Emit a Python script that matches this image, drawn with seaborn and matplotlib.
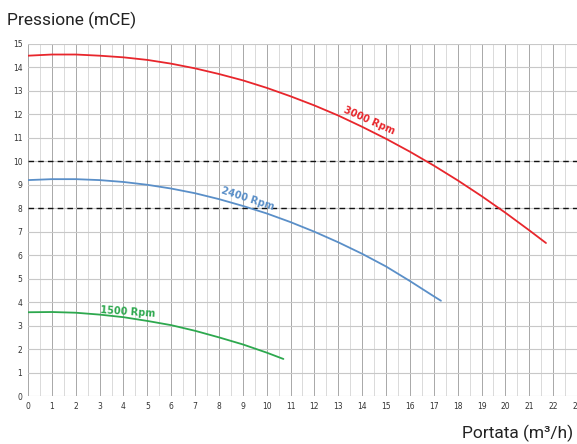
import numpy as np
import pandas as pd
import matplotlib
matplotlib.use('Agg')
import matplotlib.pyplot as plt
import seaborn as sns

# portata (m3/h) e pressione (mCE)
q_3000 = [0, 1, 2, 3, 4, 5, 6, 7, 8, 9, 10, 11, 12, 13, 14, 15, 16, 17, 18, 19, 20, 21, 21.7]
h_3000 = [14.5, 14.55, 14.55, 14.5, 14.43, 14.32, 14.16, 13.96, 13.72, 13.45, 13.13, 12.77,
          12.38, 11.95, 11.47, 10.96, 10.41, 9.82, 9.19, 8.52, 7.81, 7.06, 6.52]
q_2400 = [0, 1, 2, 3, 4, 5, 6, 7, 8, 9, 10, 11, 12, 13, 14, 15, 16, 17, 17.3]
h_2400 = [9.2, 9.24, 9.24, 9.2, 9.12, 9.0, 8.84, 8.64, 8.39, 8.1, 7.78, 7.41, 7.0,
          6.55, 6.06, 5.52, 4.9, 4.25, 4.06]
q_1500 = [0, 1, 2, 3, 4, 5, 6, 7, 8, 9, 10, 10.7]
h_1500 = [3.57, 3.58, 3.55, 3.47, 3.36, 3.2, 3.02, 2.78, 2.5, 2.2, 1.85, 1.58]

rpm_labels = ['3000 Rpm', '2400 Rpm', '1500 Rpm']
colors = ['#e8262c', '#5a8fc8', '#2da84e']
soglie = [10, 8]

df = pd.concat([
    pd.DataFrame({'Portata': q_3000, 'Pressione': h_3000, 'Rpm': rpm_labels[0]}),
    pd.DataFrame({'Portata': q_2400, 'Pressione': h_2400, 'Rpm': rpm_labels[1]}),
    pd.DataFrame({'Portata': q_1500, 'Pressione': h_1500, 'Rpm': rpm_labels[2]}),
])

sns.set_style('white')
plt.rcParams['font.family'] = ['DejaVu Sans']

fig = plt.figure(figsize=(5.77, 4.44), dpi=100)
ax = fig.add_axes([0.0485, 0.108, 0.9515, 0.793])

ax.set_xlim(0, 23)
ax.set_ylim(0, 15)
ax.set_xticks(range(0, 24))
ax.set_xticks(np.arange(0.5, 23, 1), minor=True)
ax.set_yticks(range(0, 16))
ax.grid(which='major', axis='x', color='#a8a8a8', linewidth=0.7)
ax.grid(which='minor', axis='x', color='#dadada', linewidth=0.7)
ax.grid(which='major', axis='y', color='#c8c8c8', linewidth=0.8)
ax.set_axisbelow(True)
for s in ax.spines.values():
    s.set_visible(False)
ax.tick_params(which='both', length=0, labelsize=5.5, labelcolor='#333333', pad=4)

for y in soglie:
    ax.axhline(y, color='#111111', linestyle=(0, (4, 3)), linewidth=1.0)

sns.lineplot(data=df, x='Portata', y='Pressione', hue='Rpm', palette=colors,
             linewidth=1.3, legend=False, ax=ax, sort=False)

ax.text(14.3, 11.75, rpm_labels[0], color=colors[0], fontsize=7, fontweight='bold',
        rotation=-24, ha='center', va='center')
ax.text(9.2, 8.4, rpm_labels[1], color=colors[1], fontsize=7, fontweight='bold',
        rotation=-18, ha='center', va='center')
ax.text(4.2, 3.6, rpm_labels[2], color=colors[2], fontsize=7, fontweight='bold',
        rotation=-4, ha='center', va='center')

ax.set_xlabel('')
ax.set_ylabel('')
fig.text(0.012, 0.955, 'Pressione (mCE)', fontsize=12.5, family='Roboto',
         color='#222222', ha='left', va='center')
fig.text(0.993, 0.025, 'Portata (m³/h)', fontsize=12.5, family='Roboto',
         color='#222222', ha='right', va='center')

fig.savefig('out.png', dpi=100)
